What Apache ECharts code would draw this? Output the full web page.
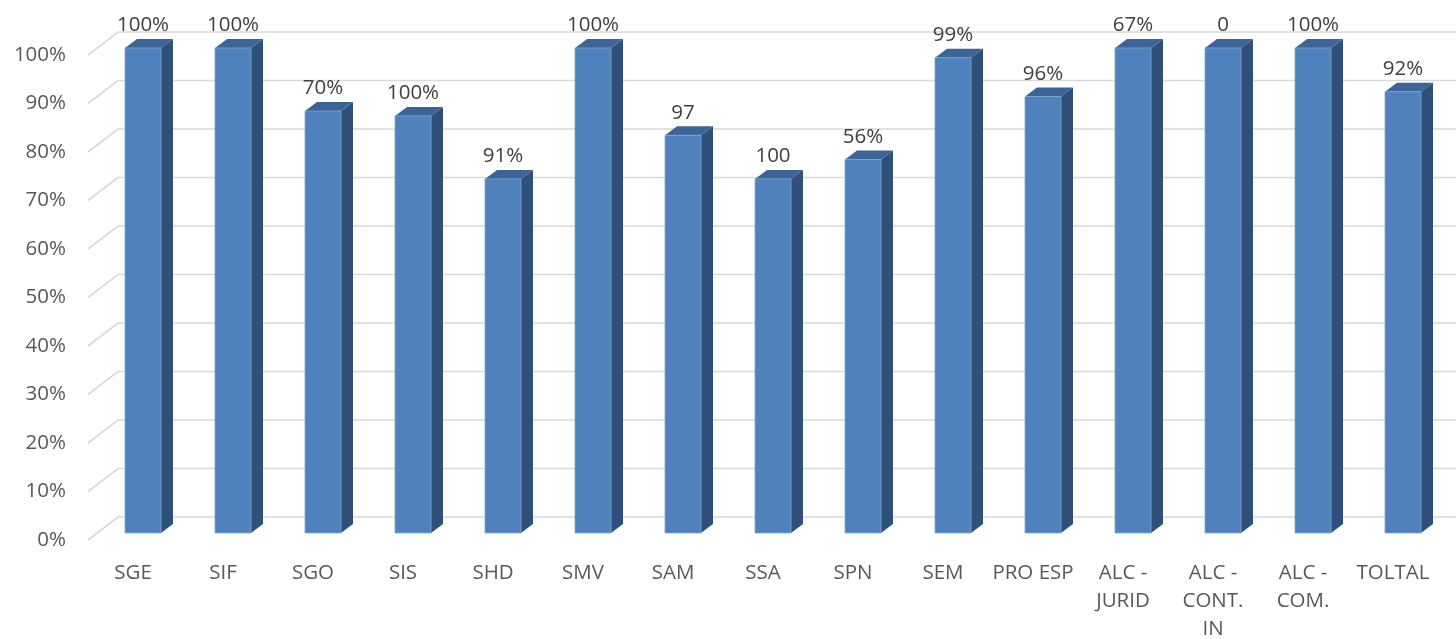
<!DOCTYPE html>
<html>
<head>
<meta charset="utf-8">
<script src="https://cdn.jsdelivr.net/npm/echarts@6/dist/echarts.min.js"></script>
<style>
  html, body { margin: 0; padding: 0; background: #fff; }
  #chart { width: 1456px; height: 639px; }
</style>
</head>
<body>
<div id="chart"></div>
<script>
// --- Data ---
const categories = ['SGE', 'SIF', 'SGO', 'SIS', 'SHD', 'SMV', 'SAM', 'SSA', 'SPN', 'SEM',
  'PRO ESP', 'ALC -\nJURID', 'ALC -\nCONT.\nIN', 'ALC -\nCOM.', 'TOLTAL'];
// bar heights in percent
const barValues = [100, 100, 87, 86, 73, 100, 82, 73, 77, 98, 90, 100, 100, 100, 91];
// the text printed above each bar (does not match the bar heights)
const barLabels = ['100%', '100%', '70%', '100%', '91%', '100%', '97', '100', '56%', '99%',
  '96%', '67%', '0', '100%', '92%'];
const yTicks = [0, 10, 20, 30, 40, 50, 60, 70, 80, 90, 100];

// --- 3D look ---
const FONT = 'Open Sans';
const FONT_SIZE = 20.5;
const WALL_DX = 30, WALL_DY = -23;   // back wall offset from front plane
const BAR_DX = 10, BAR_DY = -7;      // bar front face offset from front plane
const DEPTH_DX = 12, DEPTH_DY = -9;  // bar depth
const BAR_W = 36;

const chart = echarts.init(document.getElementById('chart'), null, { renderer: 'canvas' });

function renderGridLine(params, api) {
  const cs = params.coordSys;
  const y = api.coord([0, api.value(1)])[1];
  const x0 = cs.x;
  return {
    type: 'polyline',
    shape: {
      points: [[x0, y], [x0 + WALL_DX, y + WALL_DY], [cs.x + cs.width + WALL_DX, y + WALL_DY]]
    },
    style: { stroke: '#D9D9D9', lineWidth: 1.6, fill: null },
    silent: true
  };
}

function renderBar(params, api) {
  const i = api.value(0);
  const base = api.coord([i, 0]);
  const tip = api.coord([i, api.value(1)]);
  const cx = base[0] + BAR_DX;
  const bottom = base[1] + BAR_DY;
  const top = tip[1] + BAR_DY;
  const l = cx - BAR_W / 2, r = cx + BAR_W / 2;
  return {
    type: 'group',
    children: [
      {
        type: 'polygon',
        shape: { points: [[r, bottom], [r + DEPTH_DX, bottom + DEPTH_DY], [r + DEPTH_DX, top + DEPTH_DY], [r, top]] },
        style: { fill: '#2F5179' }
      },
      {
        type: 'polygon',
        shape: { points: [[l, top], [l + DEPTH_DX, top + DEPTH_DY], [r + DEPTH_DX, top + DEPTH_DY], [r, top]] },
        style: { fill: '#3C6597' }
      },
      {
        type: 'rect',
        shape: { x: l, y: top, width: BAR_W, height: bottom - top },
        style: { fill: '#4F81BD', stroke: '#7FA5D3', lineWidth: 0.8 }
      },
      {
        type: 'text',
        x: cx,
        y: top + DEPTH_DY - 3,
        style: {
          text: barLabels[i],
          fill: '#404040',
          font: FONT_SIZE + 'px "' + FONT + '"',
          align: 'center',
          verticalAlign: 'bottom'
        }
      }
    ]
  };
}

chart.setOption({
  backgroundColor: '#ffffff',
  animation: false,
  grid: { left: 88, right: 18, top: 55, bottom: 99, outerBoundsMode: 'none', containLabel: false },
  xAxis: {
    type: 'category',
    data: categories,
    axisLine: { show: false },
    axisTick: { show: false },
    axisLabel: {
      color: '#595959',
      fontFamily: FONT,
      fontSize: FONT_SIZE,
      lineHeight: 28,
      margin: 19,
      interval: 0
    }
  },
  yAxis: {
    type: 'value',
    min: 0,
    max: 100,
    interval: 10,
    axisLine: { show: false },
    axisTick: { show: false },
    splitLine: { show: false },
    axisLabel: {
      color: '#595959',
      fontFamily: FONT,
      fontSize: FONT_SIZE,
      margin: 22,
      formatter: '{value}%'
    }
  },
  series: [
    {
      type: 'custom',
      renderItem: renderGridLine,
      data: yTicks.map(v => [0, v]),
      clip: false,
      z: 1
    },
    {
      type: 'custom',
      renderItem: renderBar,
      data: barValues.map((v, i) => [i, v]),
      clip: false,
      z: 2
    }
  ]
});
</script>
</body>
</html>
